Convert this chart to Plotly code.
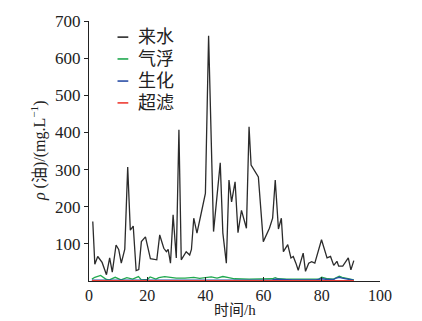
import plotly.graph_objects as go

# 来水 (influent) oil concentration
t_in = [1.3, 2, 3, 4.5, 6, 7.1, 8, 9.3, 10.2, 11.1, 12.3, 13.3, 14.2, 15.2, 16.2, 17.1, 18, 19.4,
        21.1, 22.5, 23.3, 24.3, 25.7, 26.6, 27.2, 28, 28.9, 30, 30.9, 31.7, 33.4, 34.6, 35.2,
        36, 37.1, 38.3, 40, 41.1, 42.8, 45.1, 46, 47.2, 48.1, 49, 50.2, 51.2, 52.4, 54.1,
        55, 55.7, 58.2, 59.9, 62, 63.1, 64, 65.1, 66.1, 66.8, 68.3, 69.4, 70.2, 71.1, 71.9,
        73.6, 74.4, 75.5, 76.5, 77.6, 79.9, 81.8, 83, 84.1, 85.2, 85.8, 87.2, 89.1, 90, 91]
v_in = [160, 45, 66, 50, 17, 62, 24, 97, 85, 48, 86, 307, 137, 148, 28, 31, 106, 119,
        60, 57, 57, 124, 88, 79, 85, 48, 178, 62, 407, 57, 79, 70, 85,
        169, 129, 173, 236, 660, 133, 318, 129, 48, 272, 213, 267, 130, 190, 142,
        415, 312, 280, 106, 142, 169, 272, 140, 169, 79, 98, 62, 66, 48, 29,
        75, 26, 48, 52, 48, 111, 62, 66, 42, 53, 40, 40, 62, 30, 55]

# 气浮 (flotation)
t_fl = [1, 2, 4, 6, 7, 9, 11, 13, 15, 17, 18, 20, 21, 23, 24, 26, 28, 30, 33, 36, 38, 40,
        42, 44, 46, 48, 50, 55, 60, 63, 64, 65, 68, 72, 76, 79, 80, 82, 84, 85, 86, 87, 89, 91]
v_fl = [5, 10, 15, 4, 3, 10, 3, 9, 5, 12, 3, 4, 11, 5, 9, 12, 10, 8, 8, 10, 7, 8,
        11, 8, 12, 9, 6, 5, 5, 6, 9, 6, 5, 5, 5, 5, 10, 6, 5, 10, 13, 10, 6, 3]

# 生化 (biochemical)
t_bio = [1, 10, 20, 30, 40, 50, 60, 63, 64, 70, 78, 80, 82, 84, 85, 86, 87, 89, 91]
v_bio = [2, 2, 3, 3, 3, 3, 3, 3, 5, 3, 3, 6, 4, 4, 8, 10, 8, 4, 2]

# 超滤 (ultrafiltration)
t_uf = [1, 10, 20, 30, 40, 50, 60, 64, 70, 80, 85, 86, 88, 91]
v_uf = [1, 1, 1, 1, 1, 1, 1, 2, 1, 2, 2, 3, 2, 1]

names = ["来水", "气浮", "生化", "超滤"]
colors = ["#2b2b2b", "#1fa84f", "#2a4ea6", "#ee3b33"]

fig = go.Figure()
for (tx, vy), name, col in zip([(t_in, v_in), (t_fl, v_fl), (t_bio, v_bio), (t_uf, v_uf)], names, colors):
    fig.add_trace(go.Scatter(x=tx, y=vy, mode="lines", name=name, showlegend=False,
                             line=dict(color=col, width=1.3)))

font_main = "Liberation Serif, 'Noto Sans CJK SC', serif"

# compact legend: short key line + label
row_y = [0.938, 0.854, 0.769, 0.685]
for i, (name, col) in enumerate(zip(names, colors)):
    fig.add_shape(type="line", xref="paper", yref="paper",
                  x0=0.098, x1=0.135, y0=row_y[i], y1=row_y[i],
                  line=dict(color=col, width=1.6))
    fig.add_annotation(
        xref="paper", yref="paper", x=0.163, y=row_y[i],
        xanchor="left", yanchor="middle", showarrow=False,
        text=name, font=dict(size=18, family=font_main, color="#222"))

# axis titles
fig.add_annotation(xref="paper", yref="paper", x=0.5, y=-0.112,
                   xanchor="center", yanchor="middle", showarrow=False,
                   text="时间/h", font=dict(size=15, family=font_main, color="#222"))
fig.add_annotation(xref="paper", yref="paper", x=-0.175, y=0.5,
                   xanchor="center", yanchor="middle", showarrow=False, textangle=-90,
                   text="<i>ρ</i> (油)/(mg.L<sup>−1</sup>)",
                   font=dict(size=16, family=font_main, color="#222"))

fig.update_layout(
    width=422, height=321,
    margin=dict(l=88.5, r=42, t=21, b=40),
    paper_bgcolor="white", plot_bgcolor="white",
    font=dict(family=font_main, size=17, color="#222"),
    showlegend=False,
    xaxis=dict(range=[0, 100], tickvals=[0, 20, 40, 60, 80, 100],
               showline=True, linecolor="#222", linewidth=1,
               ticks="inside", ticklen=4, tickcolor="#222", tickfont=dict(size=16),
               showgrid=False, zeroline=False, automargin=False),
    yaxis=dict(range=[0, 700], tickvals=[100, 200, 300, 400, 500, 600, 700],
               showline=True, linecolor="#222", linewidth=1,
               ticks="outside", ticklen=4, tickcolor="#222",
               showgrid=False, zeroline=False, automargin=False),
)

fig.write_html("out.html")
